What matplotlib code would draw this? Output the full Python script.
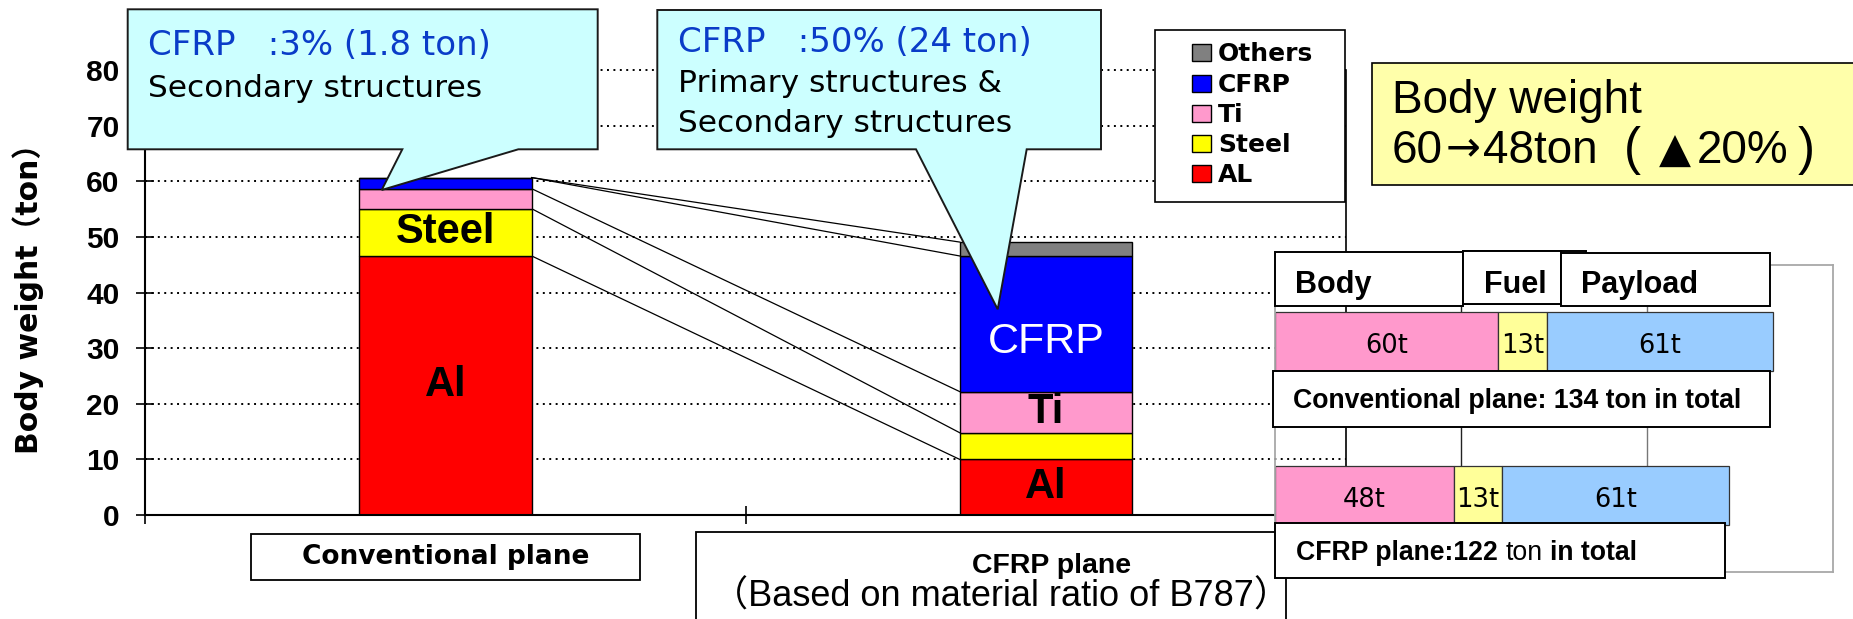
import matplotlib
matplotlib.use("Agg")
import matplotlib.pyplot as plt
from matplotlib.patches import Rectangle, Polygon
from matplotlib.transforms import Affine2D
import numpy as np

# ---------------- data ----------------
categories = ["Conventional plane", "CFRP plane"]
materials = ["AL", "Steel", "Ti", "CFRP", "Others"]
al_t = [46.6, 10.0]
steel_t = [8.5, 4.8]
ti_t = [3.6, 7.4]
cfrp_t = [2.0, 24.4]
others_t = [0.0, 2.5]
mat_colors = ["#FF0000", "#FFFF00", "#FF99CC", "#0000FF", "#808080"]
bar_labels = [["Al", "Steel", "", "", ""], ["Al", "", "Ti", "CFRP", ""]]
yticks = [0, 10, 20, 30, 40, 50, 60, 70, 80]

panel_rows = ["Conventional plane: 134 ton in total", "CFRP plane:122 ton in total"]
panel_parts = ["Body", "Fuel", "Payload"]
body_t = [60, 48]
fuel_t = [13, 13]
payload_t = [61, 61]
panel_colors = ["#FF99CC", "#FFFF99", "#99CCFF"]

# ---------------- setup ----------------
W, H = 1853, 619
fig = plt.figure(figsize=(W / 100, H / 100), dpi=100)
fig.patch.set_facecolor("white")
PX = Affine2D().scale(1 / W, -1 / H).translate(0, 1) + fig.transFigure

GOTH = ["DejaVu Sans", "Noto Sans CJK JP"]
ARIAL = ["Liberation Sans", "DejaVu Sans", "Noto Sans CJK JP"]
DEJA = ["DejaVu Sans"]
BLUE = "#0A3CC8"


def box(x0, y0, x1, y1, fc="white", ec="black", lw=1.0, z=4):
    r = Rectangle((x0, y0), x1 - x0, y1 - y0, transform=PX, facecolor=fc,
                  edgecolor=ec, linewidth=lw, zorder=z, clip_on=False)
    fig.add_artist(r)
    return r


def ftext(x, y, s, z=8, **kw):
    return fig.text(x, y, s, transform=PX, zorder=z, **kw)


# ---------------- main chart ----------------
ax_l, ax_r, ax_t, ax_b = 145.4, 1346.0, 70.3, 515.0
ax = fig.add_axes([ax_l / W, 1 - ax_b / H, (ax_r - ax_l) / W, (ax_b - ax_t) / H])
ax.set_zorder(0)
ax.set_xlim(-0.5, 1.5)
ax.set_ylim(0, 80)
ax.patch.set_alpha(0)

for v in yticks[1:]:
    ax.plot([-0.5, 1.5], [v, v], color="black", lw=1.4, ls=(0, (1, 2.3)),
            zorder=0.5, clip_on=False)

series = np.array([al_t, steel_t, ti_t, cfrp_t, others_t])  # material x category
x = np.arange(len(categories))
bw = 0.287
bottoms = np.zeros(len(categories))
tops = []
for i, m in enumerate(materials):
    ax.bar(x, series[i], bottom=bottoms, width=bw, color=mat_colors[i],
           edgecolor="black", linewidth=1.0, zorder=2)
    bottoms = bottoms + series[i]
    tops.append(bottoms.copy())

# series lines
for i in range(len(materials)):
    ax.plot([x[0] + bw / 2, x[1] - bw / 2], [tops[i][0], tops[i][1]],
            color="black", lw=0.9, zorder=1.5)

# bar labels
cum = np.vstack([np.zeros(len(categories)), np.array(tops)])
for c in range(len(categories)):
    for i in range(len(materials)):
        lab = bar_labels[c][i]
        if not lab:
            continue
        yc = (cum[i][c] + cum[i + 1][c]) / 2
        if lab == "CFRP":
            ax.text(x[c], yc - 3.3, lab, ha="center", va="center", color="white",
                    fontsize=31, family=ARIAL, zorder=3)
        else:
            ax.text(x[c], yc, lab, ha="center", va="center", color="black",
                    fontsize=30, fontweight="bold", family=ARIAL, zorder=3)

for s in ["left", "bottom", "right"]:
    ax.spines[s].set_linewidth(1.5)
    ax.spines[s].set_color("black")
ax.spines["right"].set_linewidth(1.2)
ax.spines["top"].set_visible(False)
ax.set_yticks(yticks)
ax.set_yticklabels([str(v) for v in yticks], fontsize=21.5, fontweight="bold",
                   family=ARIAL)
ax.set_xticks([-0.5, 0.5, 1.5])
ax.set_xticklabels(["", "", ""])
ax.tick_params(axis="both", direction="inout", length=13, width=1.2, pad=12)
ax.tick_params(axis="y", right=False)

ftext(27.8, 291, "Body weight（ton）", rotation=90, ha="center", va="center",
      fontsize=21.5, fontweight="bold", family=GOTH)

# category label boxes
box(250.6, 534, 639.5, 580, z=2, lw=1.3)
ftext(445.5, 557, categories[0], ha="center", va="center", fontsize=19,
      fontweight="bold", family=GOTH, z=3)
box(695.7, 531.7, 1285.6, 660, z=2, lw=1.3)
ftext(1052, 572.7, categories[1], ha="center", va="baseline", fontsize=20.5,
      fontweight="bold", family=ARIAL, z=3)
ftext(1001, 606.7, "（Based on material ratio of B787）", ha="center",
      va="baseline", fontsize=26, family=ARIAL, z=3)

# ---------------- callouts ----------------
def callout(x0, y0, x1, y1, b0, b1, tip):
    verts = [(x0, y0), (x1, y0), (x1, y1), (b1, y1), tip, (b0, y1), (x0, y1)]
    p = Polygon(verts, closed=True, transform=PX, facecolor="#CCFFFF",
                edgecolor="#1a1a1a", linewidth=1.4, zorder=5, clip_on=False)
    fig.add_artist(p)


callout(127.7, 9.3, 597.7, 149.3, 402.3, 518.3, (381.7, 190))
ftext(148.3, 55, "CFRP   :3% (1.8 ton)", ha="left", va="baseline",
      fontsize=24.5, color=BLUE, family=GOTH)
ftext(148.3, 96.7, "Secondary structures", ha="left", va="baseline",
      fontsize=22.5, color="black", family=GOTH)

callout(657.3, 10, 1101, 149.3, 916, 1026.7, (997.7, 309.3))
ftext(677.7, 52.3, "CFRP   :50% (24 ton)", ha="left", va="baseline",
      fontsize=24.5, color=BLUE, family=GOTH)
ftext(677.7, 91.7, "Primary structures &", ha="left", va="baseline",
      fontsize=22.5, color="black", family=GOTH)
ftext(677.7, 132.3, "Secondary structures", ha="left", va="baseline",
      fontsize=22.5, color="black", family=GOTH)

# ---------------- legend ----------------
box(1155, 30, 1345, 201.7, z=5, lw=1.2)
rows_y = [52.3, 83.3, 113.3, 143.3, 173.3]
for k, i in enumerate(range(len(materials) - 1, -1, -1)):
    yc = rows_y[k]
    box(1192, yc - 8.5, 1211, yc + 8.5, fc=mat_colors[i], ec="black", lw=1.0, z=6)
    ftext(1218, yc + 8.5, materials[i], ha="left", va="baseline", fontsize=18,
          fontweight="bold", family=GOTH)

# ---------------- body weight box ----------------
box(1371.7, 63.3, 1860, 185, fc="#FFFFAA", ec="black", lw=1.2, z=5)
ftext(1391.7, 113.3, "Body weight", ha="left", va="baseline", fontsize=33,
      family=ARIAL)
bw_y = 162.7
ftext(1391.7, bw_y, "60", ha="left", va="baseline", fontsize=33, family=ARIAL)
ftext(1463.5, bw_y - 2, "→", ha="center", va="baseline", fontsize=30, family=DEJA)
ftext(1483, bw_y, "48ton", ha="left", va="baseline", fontsize=33, family=ARIAL)
ftext(1624, bw_y + 1, "(", ha="left", va="baseline", fontsize=37, family=ARIAL)
ftext(1675, bw_y, "▲", ha="center", va="baseline", fontsize=30, family=DEJA)
ftext(1697, bw_y, "20%", ha="left", va="baseline", fontsize=33, family=ARIAL)
ftext(1798, bw_y + 1, ")", ha="left", va="baseline", fontsize=37, family=ARIAL)

# ---------------- right panel ----------------
p_l, p_r, p_t, p_b = 1275, 1833, 265, 572
ax2 = fig.add_axes([p_l / W, 1 - p_b / H, (p_r - p_l) / W, (p_b - p_t) / H])
ax2.set_zorder(1)
ax2.patch.set_alpha(0)
ax2.set_xlim(0, 150)
ax2.set_ylim(1.5, -0.5)
ax2.set_xticks([])
ax2.set_yticks([])
for s in ax2.spines.values():
    s.set_color("#A8A8A8")
    s.set_linewidth(1.3)
for gx, gc in [(50, "#222222"), (100, "#777777")]:
    ax2.axvline(gx, color=gc, lw=1.0, zorder=0.5)

pvals = np.array([body_t, fuel_t, payload_t])
left = np.zeros(2)
yrows = np.arange(2)
for j in range(len(panel_parts)):
    ax2.barh(yrows, pvals[j], left=left, height=0.385, color=panel_colors[j],
             edgecolor="#333333", linewidth=0.9, zorder=2)
    for r in range(2):
        ax2.text(left[r] + pvals[j][r] / 2, yrows[r] + 0.03, f"{pvals[j][r]}t",
                 ha="center", va="center", fontsize=18.5, family=GOTH, zorder=3)
    left = left + pvals[j]

# header boxes
box(1463.4, 251, 1586, 304.3, z=4, lw=1.4)
box(1275, 251.7, 1463.4, 305.7, z=4, lw=1.4)
box(1463.4, 251, 1561, 304.3, z=4, lw=1.4)
box(1561, 252.7, 1770, 305.7, z=4, lw=1.4)
for txt, xx in zip(panel_parts, [1295, 1483.5, 1581]):
    ftext(xx, 293.3, txt, ha="left", va="baseline", fontsize=22,
          fontweight="bold", family=ARIAL)

# row label boxes
box(1273, 371, 1770, 426.7, z=4, lw=1.4)
ftext(1293, 407.7, panel_rows[0], ha="left", va="baseline", fontsize=19.2,
      fontweight="bold", family=ARIAL)
box(1275, 523.3, 1725, 577.7, z=4, lw=1.4)

# mixed-weight label for CFRP plane row
renderer = fig.canvas.get_renderer()
parts = [("CFRP plane:122", "bold"), ("ton", "normal"), ("in total", "bold")]
cx = 1296
fs = 19.2
space = 0.278 * fs * 100 / 72
for s, wgt in parts:
    t = ftext(cx, 560, s, ha="left", va="baseline", fontsize=fs, fontweight=wgt,
              family=ARIAL)
    bb = t.get_window_extent(renderer=renderer)
    cx = bb.x1 + space

fig.savefig("out.png", dpi=100, facecolor="white")
